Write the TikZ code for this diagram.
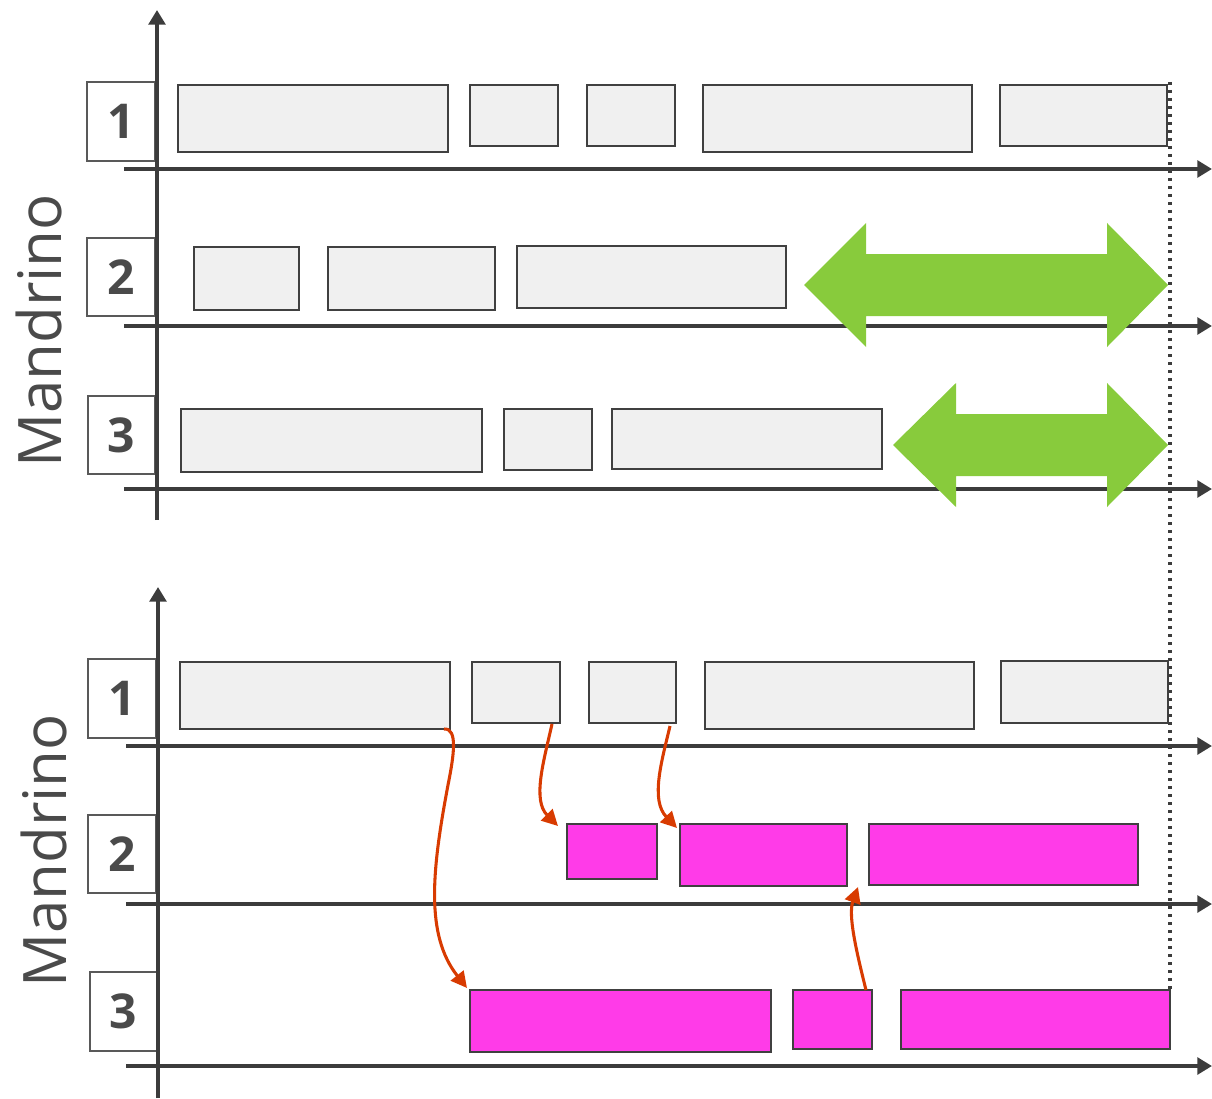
\documentclass[tikz,border=0pt]{standalone}
\usepackage{fontspec}
\setmainfont{Open Sans}
\usetikzlibrary{arrows.meta,fit,calc}
\definecolor{ax}{HTML}{3C3C3C}
\definecolor{boxline}{HTML}{404040}
\definecolor{boxfill}{HTML}{F0F0F0}
\definecolor{mag}{HTML}{FF3BE8}
\definecolor{grn}{HTML}{88CB3C}
\definecolor{org}{HTML}{D83B01}
\definecolor{txt}{HTML}{4A4A4A}
\newcommand\bx[6]{\node[#6, fit={(#2,#3) (#4,#5)}] (#1) {};}
\begin{document}
\begin{tikzpicture}[x=0.75pt,y=-0.75pt,
  axis/.style={draw=ax, line width=3.4pt, -{Triangle[length=11pt,width=12.5pt]}},
  gbox/.style={draw=boxline, fill=boxfill, line width=1.9pt, inner sep=0pt, outer sep=0pt},
  mbox/.style={draw=boxline, fill=mag, line width=1.9pt, inner sep=0pt, outer sep=0pt},
  lbox/.style={draw=ax!85, fill=white, line width=1.2pt, inner sep=0pt, outer sep=0pt},
  lab/.style={font=\fontsize{36}{40}\selectfont\bfseries, text=txt},
  mand/.style={rotate=90, font=\fontsize{45}{50}\selectfont, text=txt},
  garrow/.style={fill=grn},
  link/.style={draw=org, line width=2.3pt, -{Triangle[length=12pt,width=12pt]}},
  dotline/.style={draw=ax, line width=3pt, dash pattern=on 2.6pt off 3.4pt}
]
\useasboundingbox (0,0) rectangle (1212,1098);

% ---------- top chart ----------
\node[mand] (m1) at (39,331) {Mandrino};
\bx{l1}{87}{82}{155}{161}{lbox}
\bx{l2}{87}{238}{155}{316}{lbox}
\bx{l3}{88}{396}{155}{474}{lbox}
\node[lab] at (l1.center) {1};
\node[lab] at (l2.center) {2};
\node[lab] at (l3.center) {3};

\coordinate (vA0) at (157,520); \coordinate (vA1) at (157,10);
\draw[axis] (vA0) -- (vA1);
\coordinate (h1a) at (124,169); \coordinate (h1b) at (1212,169);
\coordinate (h2a) at (124,326); \coordinate (h2b) at (1212,326);
\coordinate (h3a) at (124,489); \coordinate (h3b) at (1212,489);
\draw[axis] (h1a) -- (h1b);
\draw[axis] (h2a) -- (h2b);
\draw[axis] (h3a) -- (h3b);

\bx{a11}{178}{85}{448}{152}{gbox}
\bx{a12}{470}{85}{558}{146}{gbox}
\bx{a13}{587}{85}{675}{146}{gbox}
\bx{a14}{703}{85}{972}{152}{gbox}
\bx{a15}{1000}{85}{1167}{146}{gbox}

\bx{a21}{194}{247}{299}{310}{gbox}
\bx{a22}{328}{247}{495}{310}{gbox}
\bx{a23}{517}{246}{786}{308}{gbox}

\bx{a31}{181}{409}{482}{472}{gbox}
\bx{a32}{504}{409}{592}{470}{gbox}
\bx{a33}{612}{409}{882}{469}{gbox}

\fill[garrow] (804,285) -- (866,223) -- (866,254) -- (1107,254) -- (1107,223) -- (1168,285)
  -- (1107,347) -- (1107,316) -- (866,316) -- (866,347) -- cycle;
\fill[garrow] (893,445) -- (956,383) -- (956,414) -- (1107,414) -- (1107,383) -- (1168,445)
  -- (1107,507) -- (1107,476) -- (956,476) -- (956,507) -- cycle;

% ---------- bottom chart ----------
\node[mand] (m2) at (44,851) {Mandrino};
\bx{k1}{88}{659}{156}{738}{lbox}
\bx{k2}{88}{815}{156}{893}{lbox}
\bx{k3}{90}{972}{157}{1051}{lbox}
\node[lab] at (k1.center) {1};
\node[lab] at (k2.center) {2};
\node[lab] at (k3.center) {3};

\coordinate (vB0) at (158,1098); \coordinate (vB1) at (158,587);
\draw[axis] (vB0) -- (vB1);
\coordinate (g1a) at (126,746); \coordinate (g1b) at (1212,746);
\coordinate (g2a) at (126,904); \coordinate (g2b) at (1212,904);
\coordinate (g3a) at (126,1066); \coordinate (g3b) at (1212,1066);
\draw[axis] (g1a) -- (g1b);
\draw[axis] (g2a) -- (g2b);
\draw[axis] (g3a) -- (g3b);

\bx{b11}{180}{662}{450}{729}{gbox}
\bx{b12}{472}{662}{560}{723}{gbox}
\bx{b13}{589}{662}{676}{723}{gbox}
\bx{b14}{705}{662}{974}{729}{gbox}
\bx{b15}{1001}{661}{1168}{723}{gbox}

\bx{b21}{567}{824}{657}{879}{mbox}
\bx{b22}{680}{824}{847}{886}{mbox}
\bx{b23}{869}{824}{1138}{885}{mbox}

\bx{b31}{470}{990}{771}{1052}{mbox}
\bx{b32}{793}{990}{872}{1049}{mbox}
\bx{b33}{901}{990}{1170}{1049}{mbox}

% dotted deadline
\coordinate (d0) at (1170,82); \coordinate (d1) at (1170,990);
\draw[dotline] (d0) -- (d1);

% links
\draw[link] ($(b11.south east)+(-6,0)$) .. controls (458,728) and (454,755) .. (448,785)
  .. controls (432,870) and (425,935) .. ($(b31.north west)+(-3,-2)$);
\draw[link] ($(b12.south east)+(-8,1)$) .. controls (544,760) and (532,800) .. ($(b21.north west)+(-9,2)$);
\draw[link] ($(b13.south west)+(81,3)$) .. controls (662,760) and (650,800) .. ($(b22.north west)+(-3,4)$);
\draw[link] ($(b32.north east)+(-6,0)$) .. controls (856,950) and (848,915) .. ($(b23.south west)+(-11,2)$);
\end{tikzpicture}
\end{document}
